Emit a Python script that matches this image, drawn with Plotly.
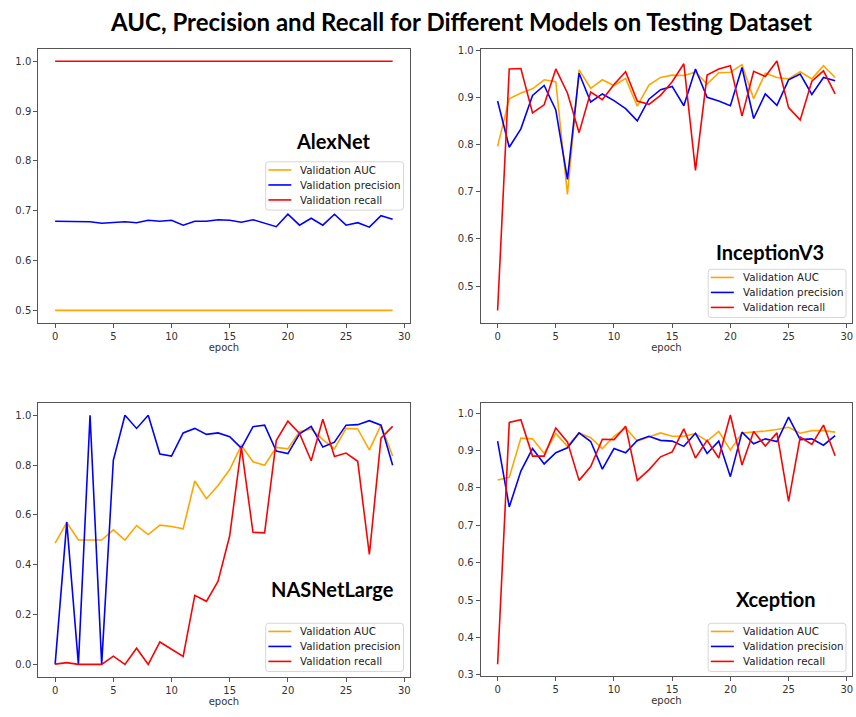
import plotly.graph_objects as go

epochs = list(range(30))

alex_auc = [0.5] * 30
alex_precision = [0.679, 0.679, 0.679, 0.678, 0.675, 0.676, 0.678, 0.676, 0.681, 0.679,
                  0.681, 0.671, 0.679, 0.679, 0.682, 0.681, 0.677, 0.682, 0.675, 0.668,
                  0.693, 0.671, 0.685, 0.671, 0.693, 0.671, 0.676, 0.667, 0.690, 0.683]
alex_recall = [1.0] * 30

inc_auc = [0.796, 0.897, 0.909, 0.918, 0.937, 0.933, 0.694, 0.958, 0.919, 0.937,
           0.925, 0.940, 0.881, 0.926, 0.942, 0.947, 0.946, 0.953, 0.928, 0.952,
           0.953, 0.969, 0.897, 0.951, 0.942, 0.939, 0.954, 0.939, 0.967, 0.942]
inc_precision = [0.892, 0.794, 0.833, 0.904, 0.925, 0.873, 0.726, 0.951, 0.890, 0.907,
                 0.893, 0.876, 0.850, 0.896, 0.916, 0.923, 0.882, 0.960, 0.900, 0.892,
                 0.882, 0.963, 0.855, 0.907, 0.883, 0.937, 0.949, 0.906, 0.942, 0.935]
inc_recall = [0.448, 0.960, 0.961, 0.867, 0.884, 0.960, 0.909, 0.825, 0.911, 0.895,
              0.927, 0.954, 0.892, 0.885, 0.904, 0.933, 0.971, 0.745, 0.947, 0.960,
              0.967, 0.860, 0.955, 0.944, 0.977, 0.878, 0.852, 0.934, 0.956, 0.907]

nas_auc = [0.487, 0.569, 0.499, 0.499, 0.499, 0.540, 0.499, 0.557, 0.521, 0.559,
           0.553, 0.544, 0.736, 0.665, 0.718, 0.782, 0.879, 0.813, 0.799, 0.871,
           0.865, 0.934, 0.945, 0.902, 0.865, 0.947, 0.945, 0.861, 0.960, 0.836]
nas_precision = [0.0, 0.571, 0.0, 1.0, 0.0, 0.819, 1.0, 0.947, 1.0, 0.844,
                 0.836, 0.929, 0.947, 0.923, 0.929, 0.914, 0.868, 0.954, 0.960, 0.856,
                 0.846, 0.925, 0.955, 0.872, 0.892, 0.960, 0.962, 0.978, 0.960, 0.799]
nas_recall = [0.001, 0.007, 0.0, 0.0, 0.0, 0.033, 0.0, 0.065, 0.0, 0.090,
              0.061, 0.032, 0.277, 0.253, 0.334, 0.516, 0.872, 0.530, 0.528, 0.898,
              0.976, 0.927, 0.817, 0.984, 0.834, 0.848, 0.815, 0.441, 0.908, 0.955]

xce_auc = [0.821, 0.828, 0.933, 0.931, 0.892, 0.945, 0.911, 0.947, 0.934, 0.905,
           0.938, 0.960, 0.925, 0.936, 0.947, 0.938, 0.938, 0.945, 0.925, 0.951,
           0.901, 0.947, 0.949, 0.952, 0.956, 0.962, 0.946, 0.953, 0.953, 0.949]
xce_precision = [0.925, 0.749, 0.845, 0.905, 0.864, 0.894, 0.907, 0.947, 0.924, 0.850,
                 0.905, 0.894, 0.927, 0.938, 0.927, 0.925, 0.911, 0.946, 0.892, 0.925,
                 0.830, 0.949, 0.918, 0.931, 0.924, 0.989, 0.929, 0.931, 0.914, 0.940]
xce_recall = [0.328, 0.975, 0.982, 0.885, 0.885, 0.960, 0.923, 0.820, 0.857, 0.930,
              0.929, 0.965, 0.820, 0.848, 0.883, 0.896, 0.958, 0.880, 0.927, 0.880,
              0.995, 0.861, 0.951, 0.912, 0.947, 0.764, 0.936, 0.916, 0.968, 0.886]

model_names = ["AlexNet", "InceptionV3", "NASNetLarge", "Xception"]
series_names = ["Validation AUC", "Validation precision", "Validation recall"]
series_colors = ["#FFA500", "#0000FF", "#FF0000"]
title_text = "AUC, Precision and Recall for Different Models on Testing Dataset"

W, H = 856, 717

panels = [
    # (data, x-domain px, y-domain px, y range, y ticks, label centre px, legend top-left px)
    ((alex_auc, alex_precision, alex_recall), (38.3, 410), (45, 322.3), (0.475, 1.024),
     [0.5, 0.6, 0.7, 0.8, 0.9, 1.0], (333, 138), (266, 159)),
    ((inc_auc, inc_precision, inc_recall), (481.3, 853), (45, 322.3), (0.422, 1.0015),
     [0.5, 0.6, 0.7, 0.8, 0.9, 1.0], (771, 250), (709, 268)),
    ((nas_auc, nas_precision, nas_recall), (38.3, 410), (404, 681), (-0.0487, 1.0475),
     [0.0, 0.2, 0.4, 0.6, 0.8, 1.0], (333, 592), (266, 627)),
    ((xce_auc, xce_precision, xce_recall), (481.3, 853), (404, 680), (0.298, 1.026),
     [0.3, 0.4, 0.5, 0.6, 0.7, 0.8, 0.9, 1.0], (777, 602), (709, 627)),
]


def px(x):
    return x / W


def py(y):
    return 1 - y / H


fig = go.Figure()
annotations = []
shapes = []
layout = {}

tick_font = dict(family="DejaVu Sans", size=10, color="#333")

for k, (data, xd, yd, yr, yt, lab, leg) in enumerate(panels):
    n = k + 1
    xa = "x" if n == 1 else f"x{n}"
    ya = "y" if n == 1 else f"y{n}"
    for vals, name, col in zip(data, series_names, series_colors):
        fig.add_trace(go.Scatter(
            x=epochs, y=vals, mode="lines", name=name,
            line=dict(color=col, width=1.6),
            xaxis=xa, yaxis=ya, showlegend=False,
        ))
    axis_common = dict(
        showline=True, linecolor="#555", linewidth=1, mirror=True,
        ticks="outside", ticklen=4, tickcolor="#555", tickwidth=1,
        showgrid=False, zeroline=False, tickfont=tick_font,
    )
    layout["xaxis" if n == 1 else f"xaxis{n}"] = dict(
        domain=[px(xd[0]), px(xd[1])], anchor=ya,
        range=[-1.45, 30.45], tickvals=[0, 5, 10, 15, 20, 25, 30],
        title=dict(text="epoch", font=tick_font, standoff=2),
        **axis_common,
    )
    layout["yaxis" if n == 1 else f"yaxis{n}"] = dict(
        domain=[py(yd[1]), py(yd[0])], anchor=xa,
        range=list(yr), tickvals=yt, tickformat=".1f",
        **axis_common,
    )
    # legend box (matplotlib style)
    lx, ly = leg
    bw, bh, r = 138, 49, 3
    x0, x1, y0, y1 = px(lx), px(lx + bw), py(ly + bh), py(ly)
    rx, ry = r / W, r / H
    path = (f"M {x0 + rx},{y0} L {x1 - rx},{y0} Q {x1},{y0} {x1},{y0 + ry} "
            f"L {x1},{y1 - ry} Q {x1},{y1} {x1 - rx},{y1} L {x0 + rx},{y1} "
            f"Q {x0},{y1} {x0},{y1 - ry} L {x0},{y0 + ry} Q {x0},{y0} {x0 + rx},{y0} Z")
    shapes.append(dict(type="path", path=path, xref="paper", yref="paper",
                       fillcolor="rgba(255,255,255,0.8)", line=dict(color="#d6d6d6", width=1)))
    for j, (name, col) in enumerate(zip(series_names, series_colors)):
        rowy = ly + 8.3 + 15.2 * j
        shapes.append(dict(type="line", xref="paper", yref="paper",
                           x0=px(lx + 2.7), x1=px(lx + 25.7), y0=py(rowy), y1=py(rowy),
                           line=dict(color=col, width=1.6)))
        annotations.append(dict(
            text=name, x=px(lx + 32.5), y=py(rowy), xref="paper", yref="paper",
            xanchor="left", yanchor="middle", showarrow=False,
            font=dict(family="DejaVu Sans", size=10.3, color="#222"),
        ))
    annotations.append(dict(
        text=f"<b>{model_names[k]}</b>", x=px(lab[0]), y=py(lab[1]),
        xref="paper", yref="paper", xanchor="center", yanchor="middle",
        showarrow=False, font=dict(family="Lato", size=20, color="black"),
    ))

annotations.append(dict(
    text=f"<b>{title_text}</b>",
    x=px(461.5), y=py(17), xref="paper", yref="paper",
    xanchor="center", yanchor="middle", showarrow=False,
    font=dict(family="Lato", size=24, color="black"),
))

fig.update_layout(
    width=W, height=H,
    margin=dict(l=0, r=0, t=0, b=0),
    paper_bgcolor="white", plot_bgcolor="white",
    annotations=annotations, shapes=shapes,
    showlegend=False,
    **layout,
)

fig.write_html("out.html", config={"displayModeBar": False},
               post_script="document.body.style.margin='0';")
